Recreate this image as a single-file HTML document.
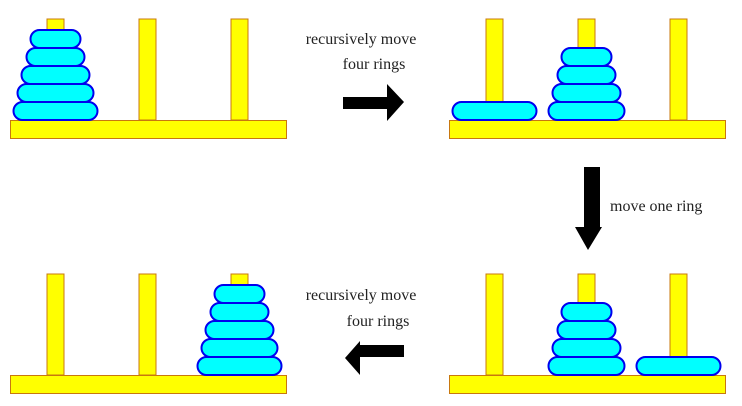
<!DOCTYPE html>
<html><head><meta charset="utf-8"><style>
html,body{margin:0;padding:0;background:#fff;width:742px;height:406px;overflow:hidden}
svg{display:block}
text{font-family:"Liberation Serif",serif;font-size:16px;fill:#222}
</style></head><body>
<svg id="c" width="742" height="406" viewBox="0 0 742 406">
<g><polygon points="343,97 387,97 387,84 404,102 387,121 387,109 343,109" fill="#000"/></g>
<g><polygon points="584,167 600,167 600,227 602,227 588,250 575,227 584,227" fill="#000"/></g>
<g><polygon points="404,345 360,345 360,341 345,358 360,375 360,357 404,357" fill="#000"/></g>
<text x="361" y="44" text-anchor="middle">recursively move</text>
<text x="374" y="69" text-anchor="middle">four rings</text>
<text x="610" y="211">move one ring</text>
<text x="361" y="300" text-anchor="middle">recursively move</text>
<text x="378" y="326" text-anchor="middle">four rings</text>
</svg>
<script>
const panelNames = ['start-state','after-first-move','after-one-ring','final-state'];
const panelX = [10, 449, 449, 10];
const panelBaseY = [120, 120, 375, 375];
const pegs0 = [[5,4,3,2,1],[],[]];
const pegs1 = [[5],[4,3,2,1],[]];
const pegs2 = [[],[4,3,2,1],[5]];
const pegs3 = [[],[],[5,4,3,2,1]];
const states = [pegs0, pegs1, pegs2, pegs3];
const svg = document.getElementById('c');
const NS = 'http://www.w3.org/2000/svg';
function mk(tag, attrs){const e=document.createElementNS(NS,tag);for(const k in attrs)e.setAttribute(k,attrs[k]);return e;}
const ringW = {1:50,2:58,3:68,4:76,5:84};
states.forEach((st, p) => {
  const g = mk('g', {});
  
  
  const x0 = panelX[p], by = panelBaseY[p];
  [45.5, 137.5, 229.5].forEach((cx, i) => {
    const peg = mk('rect', {x:x0+cx-8.5, y:by-101, width:17, height:101, fill:'#ffff00', stroke:'#c8780f', 'stroke-width':1});
    
    
    g.appendChild(peg);
  });
  const base = mk('rect', {x:x0+0.5, y:by+0.5, width:276, height:18, fill:'#ffff00', stroke:'#c8780f', 'stroke-width':1});
  
  
  g.appendChild(base);
  st.forEach((stack, i) => {
    const cx = x0 + [45.5,137.5,229.5][i];
    let y = by;
    stack.forEach(r => {
      const h = 18;
      y -= h;
      const w = ringW[r];
      const ring = mk('rect', {x:cx-w/2, y:y, width:w, height:h, rx:9, ry:9, fill:'#00ffff', stroke:'#0000ee', 'stroke-width':2});
      
      
      g.appendChild(ring);
    });
  });
  svg.insertBefore(g, svg.firstChild);
});
</script>
</body></html>
